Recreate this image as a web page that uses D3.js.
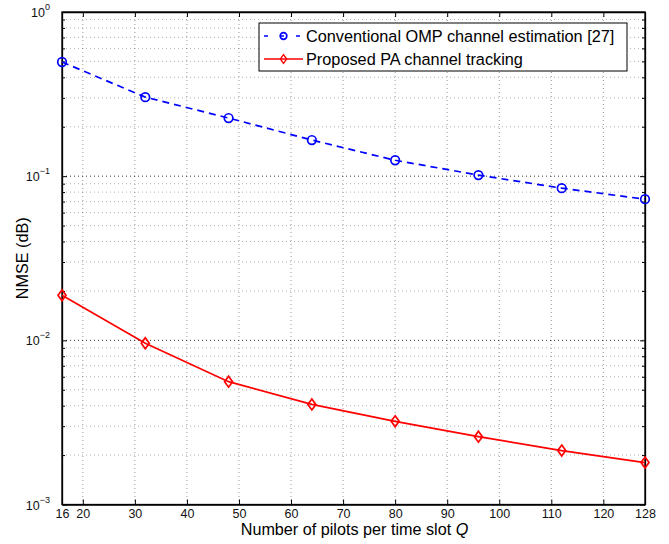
<!DOCTYPE html>
<html><head><meta charset="utf-8">
<script src="https://cdn.jsdelivr.net/npm/d3@7"></script>
<style>body{margin:0;background:#fff;} svg{display:block;font-family:"Liberation Sans",Arial,sans-serif;}</style>
</head><body>
<svg id="c" width="669" height="544"></svg>
<script>
const pilots = [16, 32, 48, 64, 80, 96, 112, 128];
const omp = [0.496, 0.303, 0.226, 0.166, 0.125, 0.1015, 0.0845, 0.0724];
const pa = [0.0188, 0.0096, 0.00560, 0.00407, 0.00321, 0.00259, 0.00213, 0.00180];
const xTicks = [16, 20, 30, 40, 50, 60, 70, 80, 90, 100, 110, 120, 128];
const xGrid = [20, 30, 40, 50, 60, 70, 80, 90, 100, 110, 120];
const yExps = [0, -1, -2, -3];
const seriesNames = ["Conventional OMP channel estimation [27]", "Proposed PA channel tracking"];

const svg = d3.select("#c");
const L = 62, R = 645, T = 12, B = 504.5;
const x = d3.scaleLinear().domain([16, 128]).range([L, R]);
const y = d3.scaleLog().domain([1e-3, 1]).range([B, T]);

const minors = [];
[-3, -2, -1].forEach(e => { for (let k = 2; k <= 9; k++) minors.push(k * Math.pow(10, e)); });
const majors = yExps.map(e => Math.pow(10, e));

const grid = svg.append("g").attr("stroke", "#555").attr("stroke-width", 1).attr("stroke-dasharray", "1,3");
grid.selectAll(".vx").data(xGrid).enter().append("line")
  .attr("x1", d => x(d)).attr("x2", d => x(d)).attr("y1", T).attr("y2", B).attr("stroke-opacity", 0.6);
grid.selectAll(".hy").data(minors).enter().append("line")
  .attr("x1", L).attr("x2", R).attr("y1", d => y(d)).attr("y2", d => y(d)).attr("stroke-opacity", 0.45);
grid.selectAll(".hm").data(majors.slice(1, 3)).enter().append("line")
  .attr("x1", L).attr("x2", R).attr("y1", d => y(d)).attr("y2", d => y(d)).attr("stroke", "#000").attr("stroke-opacity", 0.8);

const axB = svg.append("g").attr("transform", `translate(0,${B})`)
  .call(d3.axisBottom(x).tickValues(xTicks).tickSizeInner(-5).tickSizeOuter(0).tickPadding(5));
axB.selectAll("text").attr("font-size", 12.5).attr("fill", "#111");
svg.append("g").attr("transform", `translate(0,${T})`)
  .call(d3.axisTop(x).tickValues(xTicks).tickSizeInner(-5).tickSizeOuter(0).tickFormat(""));
svg.append("g").attr("transform", `translate(${L},0)`)
  .call(d3.axisLeft(y).tickValues(majors).tickSizeInner(-5).tickSizeOuter(0).tickFormat(""));
svg.append("g").attr("transform", `translate(${R},0)`)
  .call(d3.axisRight(y).tickValues(majors).tickSizeInner(-5).tickSizeOuter(0).tickFormat(""));
svg.append("g").attr("transform", `translate(${L},0)`)
  .call(d3.axisLeft(y).tickValues(minors).tickSizeInner(-3).tickSizeOuter(0).tickFormat(""))
  .select(".domain").remove();
svg.append("g").attr("transform", `translate(${R},0)`)
  .call(d3.axisRight(y).tickValues(minors).tickSizeInner(-3).tickSizeOuter(0).tickFormat(""))
  .select(".domain").remove();
svg.selectAll(".domain").attr("stroke", "#000").attr("stroke-width", 1.3);
svg.selectAll(".tick line").attr("stroke", "#000");
svg.append("rect").attr("x", L).attr("y", T).attr("width", R - L).attr("height", B - T)
  .attr("fill", "none").attr("stroke", "#000").attr("stroke-width", 1.3);

yExps.forEach(e => {
  const t = svg.append("text").attr("x", 50).attr("y", y(Math.pow(10, e)) + 5)
    .attr("text-anchor", "end").attr("font-size", 12.5).attr("fill", "#111");
  t.append("tspan").text("10");
  t.append("tspan").attr("dy", -7).attr("font-size", 9).text(e === 0 ? "0" : "\u2212" + (-e));
});

const line = d3.line().x((d, i) => x(pilots[i])).y(d => y(d));
svg.append("path").datum(omp).attr("d", line).attr("fill", "none")
  .attr("stroke", "#0000ff").attr("stroke-width", 1.7).attr("stroke-dasharray", "7,5");
svg.append("path").datum(pa).attr("d", line).attr("fill", "none")
  .attr("stroke", "#ff0000").attr("stroke-width", 1.7);
svg.selectAll(".mo").data(omp).enter().append("circle")
  .attr("cx", (d, i) => x(pilots[i])).attr("cy", d => y(d)).attr("r", 4.3)
  .attr("fill", "none").attr("stroke", "#0000ff").attr("stroke-width", 1.7);
const diamondType = { draw(ctx, size) { const w = 4, h = 5.5; ctx.moveTo(0, -h); ctx.lineTo(w, 0); ctx.lineTo(0, h); ctx.lineTo(-w, 0); ctx.closePath(); } };
const dia = d3.symbol().type(diamondType);
svg.selectAll(".mp").data(pa).enter().append("path")
  .attr("transform", (d, i) => `translate(${x(pilots[i])},${y(d)})`)
  .attr("d", dia).attr("fill", "none").attr("stroke", "#ff0000").attr("stroke-width", 1.7);

svg.append("text").attr("x", (L + R) / 2 + 1).attr("y", 535).attr("text-anchor", "middle")
  .attr("font-size", 16.2).attr("fill", "#000")
  .html('Number of pilots per time slot <tspan font-style="italic">Q</tspan>');
svg.append("text").attr("transform", `translate(28,${(T + B) / 2}) rotate(-90)`)
  .attr("text-anchor", "middle").attr("font-size", 16.2).attr("fill", "#000").text("NMSE (dB)");

const lg = svg.append("g");
lg.append("rect").attr("x", 259).attr("y", 23).attr("width", 368).attr("height", 48)
  .attr("fill", "#fff").attr("stroke", "#000").attr("stroke-width", 1);
const ly = [36, 59];
lg.append("line").attr("x1", 264).attr("x2", 303).attr("y1", ly[0]).attr("y2", ly[0])
  .attr("stroke", "#0000ff").attr("stroke-width", 1.7).attr("stroke-dasharray", "4,12");
lg.append("circle").attr("cx", 283.5).attr("cy", ly[0]).attr("r", 3.3).attr("fill", "none")
  .attr("stroke", "#0000ff").attr("stroke-width", 1.7);
lg.append("line").attr("x1", 264).attr("x2", 303).attr("y1", ly[1]).attr("y2", ly[1])
  .attr("stroke", "#ff0000").attr("stroke-width", 1.7);
lg.append("path").attr("transform", `translate(283.5,${ly[1]}) scale(0.8)`).attr("d", dia)
  .attr("fill", "none").attr("stroke", "#ff0000").attr("stroke-width", 1.7);
seriesNames.forEach((n, i) => {
  lg.append("text").attr("x", 306).attr("y", ly[i] + 6).attr("font-size", 16.3).attr("fill", "#000").text(n);
});
</script>
</body></html>
